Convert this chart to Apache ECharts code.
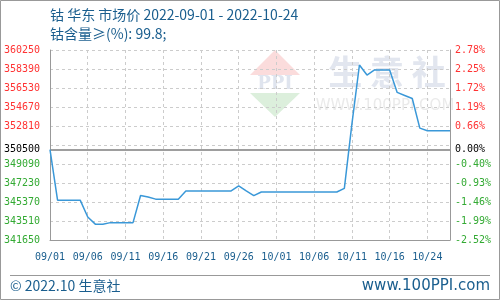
<!DOCTYPE html>
<html>
<head>
<meta charset="utf-8">
<script src="https://cdn.jsdelivr.net/npm/echarts@6/dist/echarts.min.js"></script>
<style>html,body{margin:0;padding:0;background:#fff}#c{width:500px;height:300px}</style>
</head>
<body>
<div id="c"></div>
<script>
// ---- data ----
var startDate = '2022-09-01';
var prices = [
  350500, 345550, 345550, 345550, 345550, 343900, 343200, 343200, 343350, 343350,
  343350, 343350, 346000, 345850, 345650, 345650, 345650, 345650, 346450, 346450,
  346450, 346450, 346450, 346450, 346450, 346950, 346450, 346000, 346350, 346350,
  346350, 346350, 346350, 346350, 346350, 346350, 346350, 346350, 346350, 346700,
  353000, 358780, 357800, 358300, 358300, 358300, 356100, 355800, 355500, 352600,
  352350, 352350, 352350, 352350
];
var xTickLabels = ['09/01','09/06','09/11','09/16','09/21','09/26','10/01','10/06','10/11','10/16','10/24'];
var basePrice = 350500;
var yMin = 341650, yMax = 360250, yStep = 1860;
var titleLine1 = '钴 华东 市场价 2022-09-01 - 2022-10-24';
var titleLine2 = '钴含量≥(%): 99.8;';
var footerLeft = '© 2022.10 生意社';
var footerRight = 'www.100PPI.com';

// categories: one per day
var categories = [];
(function(){
  var d = new Date(startDate + 'T00:00:00Z');
  for (var i = 0; i < prices.length; i++) {
    var m = ('0' + (d.getUTCMonth() + 1)).slice(-2), dd = ('0' + d.getUTCDate()).slice(-2);
    categories.push(m + '/' + dd);
    d.setUTCDate(d.getUTCDate() + 1);
  }
})();

var RED = '#ff3333', GREEN = '#33aa33', BLUE = '#1a5e8e', GRAY = '#999999';
var MONO = '"DejaVu Sans Mono", "Liberation Mono", monospace';
var CJK = '"Noto Sans CJK SC", "Noto Sans", sans-serif';
var hidden = yMin + 5 * yStep;

function isHidden(v){ return Math.abs(v - hidden) < 1; }

var chart = echarts.init(document.getElementById('c'), null, {renderer: 'canvas'});
chart.setOption({
  animation: false,
  grid: {left: 50, right: 50, top: 50, bottom: 60},
  xAxis: {
    type: 'category',
    data: categories,
    boundaryGap: false,
    axisLine: {lineStyle: {color: GRAY, width: 1}},
    axisTick: {show: false},
    axisLabel: {
      interval: function(i){ return i % 5 === 0 && i / 5 < xTickLabels.length; },
      formatter: function(v, i){ return xTickLabels[i / 5] || ''; },
      color: BLUE, fontFamily: MONO, fontSize: 10, margin: 12
    },
    splitLine: {
      show: true,
      interval: function(i){ return i % 5 === 0 && i / 5 < xTickLabels.length; },
      lineStyle: {color: '#cccccc', type: [3, 3], width: 1}
    }
  },
  yAxis: [{
    type: 'value', min: yMin, max: yMax, interval: yStep,
    axisLine: {show: true, lineStyle: {color: GRAY}},
    axisTick: {show: false},
    splitLine: {show: true, lineStyle: {color: '#cccccc', type: [3, 3], width: 1}},
    axisLabel: {
      margin: 10, fontFamily: MONO, fontSize: 10,
      formatter: function(v){
        if (isHidden(v)) return '';
        return (v > basePrice ? '{r|' : '{g|') + v + '}';
      },
      rich: {r: {color: RED, fontFamily: MONO, fontSize: 10}, g: {color: GREEN, fontFamily: MONO, fontSize: 10}}
    }
  }, {
    type: 'value', min: yMin, max: yMax, interval: yStep, position: 'right',
    axisLine: {show: true, lineStyle: {color: GRAY}},
    axisTick: {show: false},
    splitLine: {show: false},
    axisLabel: {
      margin: 5, fontFamily: MONO, fontSize: 10,
      formatter: function(v){
        if (isHidden(v)) return '';
        var p = ((v - basePrice) / basePrice * 100).toFixed(2) + '%';
        return (v > basePrice ? '{r|' : '{g|') + p + '}';
      },
      rich: {r: {color: RED, fontFamily: MONO, fontSize: 10}, g: {color: GREEN, fontFamily: MONO, fontSize: 10}}
    }
  }],
  series: [{
    type: 'line',
    data: prices,
    showSymbol: false,
    symbol: 'none',
    lineStyle: {color: '#3a98d8', width: 1.5},
    z: 5,
    markLine: {
      silent: true,
      symbol: 'none',
      lineStyle: {color: GRAY, type: 'solid', width: 1.5},
      data: [
        {yAxis: basePrice, label: {position: 'start', distance: 10, formatter: String(basePrice), color: '#000', fontFamily: MONO, fontSize: 10}},
        {yAxis: basePrice, label: {position: 'end', distance: 5, formatter: '0.00%', color: '#000', fontFamily: MONO, fontSize: 10}}
      ]
    }
  }],
  graphic: [
    {type: 'rect', z: -10, shape: {x: 0.5, y: 0.5, width: 499, height: 299}, style: {fill: 'none', stroke: GRAY, lineWidth: 1}},
    // watermark
    {type: 'polygon', z: -5, shape: {points: [[275, 50], [300, 75], [250, 75]]}, style: {fill: '#fbdcdc'}},
    {type: 'polygon', z: -5, shape: {points: [[250, 93], [300, 93], [275, 117]]}, style: {fill: '#dcefdc'}},
    {type: 'text', z: -5, style: {x: 275, y: 84, text: 'PPI', fill: '#dfe4ee', font: 'bold 18px "DejaVu Serif", serif', align: 'center', verticalAlign: 'middle'}},
    {type: 'text', z: -5, style: {x: 387, y: 72, text: '生 意 社', fill: '#e2e6ef', font: 'bold 34px ' + CJK, align: 'center', verticalAlign: 'middle'}},
    {type: 'text', z: -5, style: {x: 385, y: 106, text: 'WWW.100PPI.COM', fill: '#eaeaea', font: '15px "DejaVu Sans", sans-serif', align: 'center', verticalAlign: 'middle'}},
    // titles
    {type: 'text', style: {x: 50, y: 15, text: titleLine1, fill: BLUE, font: '14px ' + CJK, verticalAlign: 'middle'}},
    {type: 'text', style: {x: 50, y: 34, text: titleLine2, fill: BLUE, font: '14px ' + CJK, verticalAlign: 'middle'}},
    // footer
    {type: 'line', shape: {x1: 10, y1: 275.5, x2: 490, y2: 275.5}, style: {stroke: GRAY, lineWidth: 1}},
    {type: 'text', style: {x: 10, y: 286, text: footerLeft, fill: BLUE, font: '14px ' + CJK, verticalAlign: 'middle'}},
    {type: 'text', style: {x: 490, y: 286, text: footerRight, fill: BLUE, font: '15px "DejaVu Sans", sans-serif', align: 'right', verticalAlign: 'middle'}}
  ]
});
</script>
</body>
</html>
